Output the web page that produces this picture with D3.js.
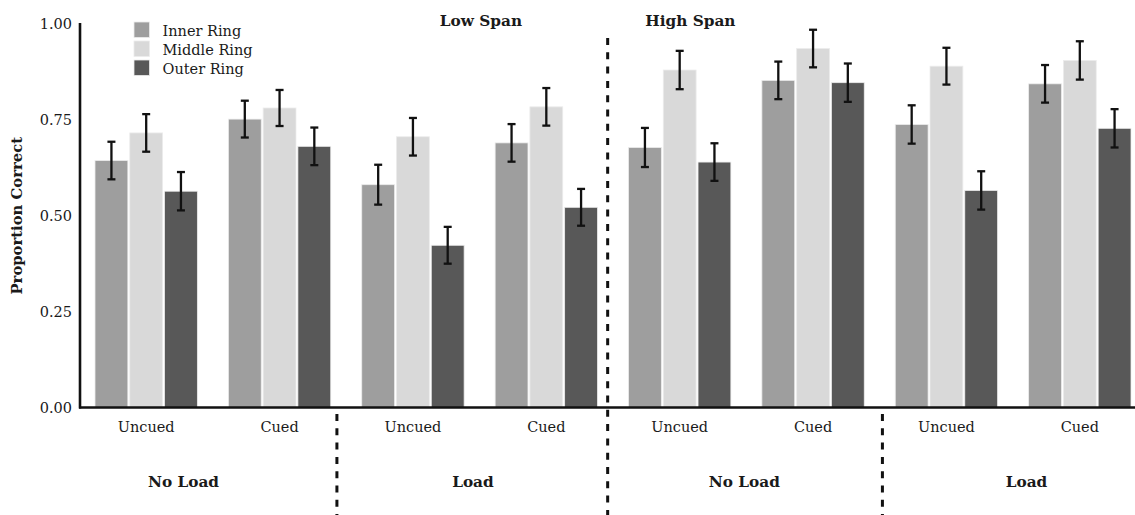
<!DOCTYPE html>
<html>
<head>
<meta charset="utf-8">
<script src="https://cdnjs.cloudflare.com/ajax/libs/d3/7.8.5/d3.min.js"></script>
<style>
  body { margin: 0; background: #fff; }
  text { font-family: "DejaVu Serif", Georgia, serif; fill: #1a1a1a; }
</style>
</head>
<body>
<svg id="chart"></svg>
<script>
// condition labels along the x axis
var groups = ["Uncued", "Cued", "Uncued", "Cued", "Uncued", "Cued", "Uncued", "Cued"];
var rings = ["Inner Ring", "Middle Ring", "Outer Ring"];
var loadLabels = ["No Load", "Load", "No Load", "Load"];
var spanLabels = ["Low Span", "High Span"];
var yTicks = [0, 0.25, 0.5, 0.75, 1];

// proportion correct, one value per group
var inner  = [0.644, 0.752, 0.581, 0.690, 0.678, 0.853, 0.738, 0.844];
var middle = [0.716, 0.781, 0.706, 0.784, 0.880, 0.936, 0.890, 0.905];
var outer  = [0.564, 0.681, 0.423, 0.522, 0.640, 0.847, 0.566, 0.728];

// error bar half widths
var innerErr  = [0.049, 0.048, 0.052, 0.049, 0.051, 0.049, 0.050, 0.049];
var middleErr = [0.049, 0.047, 0.049, 0.049, 0.050, 0.049, 0.048, 0.050];
var outerErr  = [0.050, 0.049, 0.048, 0.048, 0.049, 0.050, 0.050, 0.050];

var width = 1135;
var height = 515;
var svg = d3.select("#chart").attr("width", width).attr("height", height);

var colors = {"Inner Ring": "#9e9e9e", "Middle Ring": "#d9d9d9", "Outer Ring": "#585858"};
var values = {"Inner Ring": inner, "Middle Ring": middle, "Outer Ring": outer};
var errors = {"Inner Ring": innerErr, "Middle Ring": middleErr, "Outer Ring": outerErr};

var x0 = d3.scaleBand().domain(d3.range(groups.length)).range([80, 1146])
  .paddingInner(0.2325).paddingOuter(0.1125);
var x1 = d3.scaleBand().domain(rings).range([0, x0.bandwidth()]).paddingInner(0.055);
var y = d3.scaleLinear().domain([0, 1]).range([407.5, 24]);

// position in "group units" (0 = centre of first group)
function gx(u) {
  return x0(0) + x0.bandwidth() / 2 + u * x0.step();
}

var rows = [];
groups.forEach(function(g, i) {
  rings.forEach(function(r) {
    rows.push({group: i, ring: r, value: values[r][i], err: errors[r][i]});
  });
});

// bars
svg.append("g").selectAll("rect").data(rows).enter().append("rect")
  .attr("x", function(d) { return x0(d.group) + x1(d.ring); })
  .attr("y", function(d) { return y(d.value); })
  .attr("width", x1.bandwidth())
  .attr("height", function(d) { return y(0) - y(d.value); })
  .attr("fill", function(d) { return colors[d.ring]; })
  .attr("stroke", "#ececec")
  .attr("stroke-width", 0.8);

// error bars
var eb = svg.append("g").selectAll("g").data(rows).enter().append("g")
  .attr("transform", function(d) {
    return "translate(" + (x0(d.group) + x1(d.ring) + x1.bandwidth() / 2) + ",0)";
  });
eb.append("line")
  .attr("y1", function(d) { return y(d.value + d.err); })
  .attr("y2", function(d) { return y(d.value - d.err); })
  .attr("stroke", "#111").attr("stroke-width", 2.3);
eb.append("line").attr("x1", -4).attr("x2", 4)
  .attr("y1", function(d) { return y(d.value + d.err); })
  .attr("y2", function(d) { return y(d.value + d.err); })
  .attr("stroke", "#111").attr("stroke-width", 2.3);
eb.append("line").attr("x1", -4).attr("x2", 4)
  .attr("y1", function(d) { return y(d.value - d.err); })
  .attr("y2", function(d) { return y(d.value - d.err); })
  .attr("stroke", "#111").attr("stroke-width", 2.3);

// axes
var yAxis = svg.append("g").attr("transform", "translate(80,0)")
  .call(d3.axisLeft(y).tickValues(yTicks).tickFormat(d3.format(".2f")).tickSize(0).tickPadding(8));
yAxis.select(".domain").remove();
yAxis.selectAll("text").style("font-size", "14.5px").style("font-family", "DejaVu Serif").attr("fill", "#1a1a1a");

svg.append("line").attr("x1", 80).attr("x2", 80).attr("y1", y(1) - 1).attr("y2", y(0) + 1)
  .attr("stroke", "#111").attr("stroke-width", 2.6);
svg.append("line").attr("x1", 79).attr("x2", width).attr("y1", y(0)).attr("y2", y(0))
  .attr("stroke", "#111").attr("stroke-width", 2.6);

svg.append("g").selectAll("text").data(groups).enter().append("text")
  .attr("x", function(d, i) { return x0(i) + x0.bandwidth() / 2; })
  .attr("y", 432)
  .attr("text-anchor", "middle")
  .style("font-size", "14.5px")
  .text(function(d) { return d; });

svg.append("text")
  .attr("transform", "translate(22," + y(0.5) + ") rotate(-90)")
  .attr("text-anchor", "middle")
  .style("font-size", "14.8px").style("font-weight", "bold")
  .text("Proportion Correct");

// load / span labels (positions in group units)
var loadPos = [0.28, 2.45, 4.485, 6.6];
svg.append("g").selectAll("text").data(loadLabels).enter().append("text")
  .attr("x", function(d, i) { return gx(loadPos[i]); })
  .attr("y", 487)
  .attr("text-anchor", "middle")
  .style("font-size", "15.3px").style("font-weight", "bold")
  .text(function(d) { return d; });

var spanPos = [2.51, 4.08];
svg.append("g").selectAll("text").data(spanLabels).enter().append("text")
  .attr("x", function(d, i) { return gx(spanPos[i]); })
  .attr("y", 26)
  .attr("text-anchor", "middle")
  .style("font-size", "15.3px").style("font-weight", "bold")
  .text(function(d) { return d; });

// dotted dividers
var dividers = [{u: 1.43, top: 414}, {u: 3.46, top: 38}, {u: 5.52, top: 414}];
svg.append("g").selectAll("line").data(dividers).enter().append("line")
  .attr("x1", function(d) { return gx(d.u); })
  .attr("x2", function(d) { return gx(d.u); })
  .attr("y1", function(d) { return d.top; })
  .attr("y2", height)
  .attr("stroke", "#111").attr("stroke-width", 3)
  .attr("stroke-dasharray", "7,7.3");

// legend
var legend = svg.append("g").selectAll("g").data(rings).enter().append("g")
  .attr("transform", function(d, i) { return "translate(134," + (22 + i * 19) + ")"; });
legend.append("rect").attr("width", 15.5).attr("height", 15.5)
  .attr("fill", function(d) { return colors[d]; })
  .attr("stroke", "#ececec").attr("stroke-width", 0.8);
legend.append("text").attr("x", 28.5).attr("y", 13.5)
  .style("font-size", "14.5px")
  .text(function(d) { return d; });
</script>
</body>
</html>
